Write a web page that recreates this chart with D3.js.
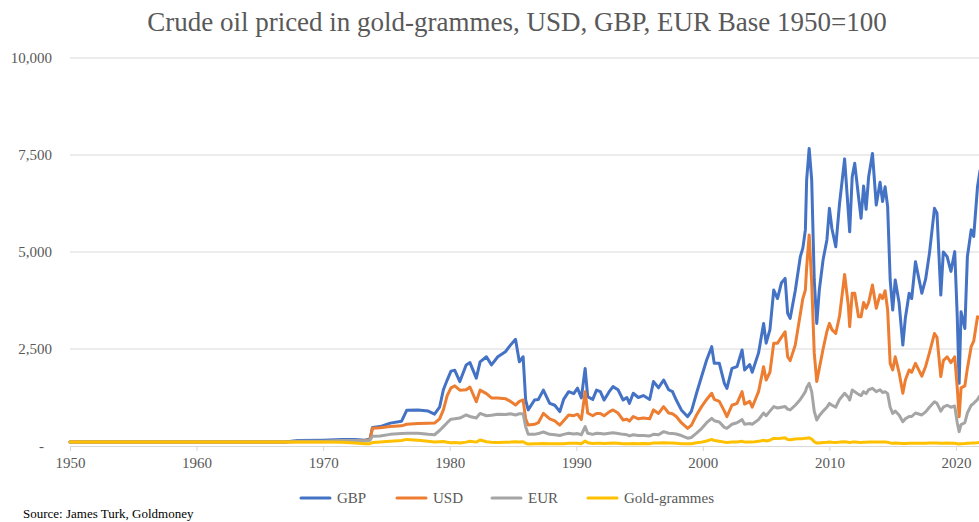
<!DOCTYPE html>
<html>
<head>
<meta charset="utf-8">
<script src="https://cdn.jsdelivr.net/npm/d3@7"></script>
<style>
  html, body { margin: 0; padding: 0; background: #ffffff; }
  svg { display: block; }
  text { font-family: "Liberation Serif", "DejaVu Serif", serif; fill: #595959; }
</style>
</head>
<body>
<svg id="chart" width="979" height="522"></svg>
<script>
// Observation dates (decimal years)
const dates = [
  1950.0, 1955.0, 1960.0, 1965.0, 1967.0, 1968.0, 1970.0, 1971.5, 1972.5, 1973.3, 1973.7, 1973.9,
  1974.5, 1975.3, 1976.2, 1976.6, 1977.5, 1978.3, 1978.8, 1979.2, 1979.5, 1979.8, 1980.1, 1980.4,
  1980.8, 1981.3, 1981.6, 1982.1, 1982.4, 1982.9, 1983.3, 1983.8, 1984.4, 1984.8, 1985.2, 1985.5,
  1985.8, 1986.0, 1986.2, 1986.7, 1987.0, 1987.4, 1987.9, 1988.3, 1988.7, 1989.0, 1989.4, 1989.8,
  1990.1, 1990.4, 1990.7, 1990.9, 1991.3, 1991.6, 1991.9, 1992.2, 1992.6, 1992.9, 1993.3, 1993.7,
  1994.0, 1994.2, 1994.5, 1994.9, 1995.3, 1995.8, 1996.1, 1996.5, 1996.9, 1997.3, 1997.6, 1997.9,
  1998.3, 1998.8, 1999.1, 1999.5, 1999.9, 2000.3, 2000.7, 2000.9, 2001.3, 2001.7, 2001.9, 2002.3,
  2002.7, 2003.1, 2003.3, 2003.7, 2003.9, 2004.4, 2004.8, 2005.0, 2005.3, 2005.6, 2005.9, 2006.2,
  2006.5, 2006.7, 2006.9, 2007.3, 2007.7, 2007.9, 2008.1, 2008.2, 2008.4, 2008.6, 2008.8, 2009.0,
  2009.2, 2009.5, 2009.8, 2010.0, 2010.2, 2010.5, 2010.8, 2011.2, 2011.5, 2011.6, 2011.8, 2012.0,
  2012.3, 2012.5, 2012.7, 2012.9, 2013.1, 2013.4, 2013.7, 2014.0, 2014.2, 2014.4, 2014.6, 2014.8,
  2015.0, 2015.2, 2015.5, 2015.8, 2016.0, 2016.3, 2016.5, 2016.8, 2017.3, 2017.6, 2017.9, 2018.3,
  2018.5, 2018.8, 2019.0, 2019.3, 2019.6, 2019.9, 2020.1, 2020.25, 2020.4, 2020.7, 2020.9, 2021.2,
  2021.4, 2021.7, 2021.9
];

// Crude oil price indexed to 1950 = 100, by unit of account
const gbp = [
  100, 100, 100, 100, 105, 140, 150, 165, 165, 150, 180, 480,
  500, 590, 640, 920, 930, 900, 820, 1000, 1450, 1700, 1930, 1950,
  1660, 2090, 2150, 1750, 2170, 2300, 2090, 2300, 2430, 2600, 2750, 2170,
  2300, 1185, 930, 1185, 1200, 1440, 1100, 1050, 885, 1200, 1400, 1350,
  1490, 1240, 2000, 1270, 1200, 1440, 1400, 1185, 1400, 1530, 1450, 1185,
  1250, 1100, 1360, 1250, 1300, 1200, 1660, 1500, 1700, 1450, 1400, 1185,
  930, 755, 900, 1360, 1790, 2215, 2560, 2130, 2130, 1615, 1485, 2000,
  2045, 2475, 1960, 2100, 1900, 2400, 3160, 2650, 3000, 4020, 3800, 4200,
  4320, 3420, 3290, 4000, 4880, 5100, 5570, 6850, 7670, 6850, 4280, 3160,
  4020, 4800, 5310, 6125, 5600, 5135, 6250, 7400, 6000, 5520, 6940, 7285,
  6425, 5870, 6700, 6100, 6940, 7540, 6210, 6800, 6300, 6680, 6170, 4280,
  3505, 4280, 3700, 2600, 3300, 3935, 3800, 4750, 3935, 4300, 4960, 6125,
  6000, 3890, 5000, 4880, 4500, 5010, 3330, 1615, 3460, 3030, 4880, 5570,
  5400, 6680, 7100
];
const usd = [
  100, 100, 100, 100, 100, 110, 110, 130, 135, 140, 160, 460,
  470, 500, 520, 560, 580, 585, 590, 700, 930, 1300, 1500, 1550,
  1440, 1450, 1520, 1140, 1440, 1350, 1240, 1240, 1220, 1150, 1055, 1150,
  1185, 700, 540, 560, 600, 840, 700, 650, 540, 650, 800, 780,
  820, 680, 1400, 850, 780, 840, 840, 780, 880, 930, 850, 670,
  690, 640, 760, 700, 720, 700, 930, 840, 1015, 850, 830, 760,
  600, 455, 540, 800, 1015, 1200, 1360, 1200, 1150, 900, 755, 1050,
  1100, 1400, 1080, 1150, 1000, 1400, 2045, 1700, 1900, 2650, 2650, 2800,
  2945, 2300, 2200, 2600, 3400, 3800, 4020, 4600, 5440, 4200, 2400, 1660,
  2000, 2500, 2950, 3160, 3000, 2900, 3350, 4420, 3600, 3075, 3935, 3935,
  3330, 3330, 3700, 3550, 3700, 4150, 3550, 3900, 3800, 4000, 3505, 2130,
  1960, 2300, 1900, 1360, 1700, 1960, 1900, 2130, 1800, 2050, 2400, 2900,
  2800, 1790, 2200, 2300, 2150, 2300, 1500, 755, 1500, 1550, 2000, 2560,
  2700, 3330, 3300
];
const eur = [
  100, 100, 100, 100, 100, 120, 125, 140, 140, 130, 150, 250,
  260, 300, 320, 330, 330, 300, 290, 400, 500, 600, 690, 700,
  720, 800, 760, 720, 840, 780, 790, 820, 810, 830, 800, 830,
  830, 500, 300, 300, 320, 360, 300, 290, 270, 300, 330, 310,
  320, 290, 500, 330, 300, 330, 320, 310, 330, 340, 320, 300,
  290, 260, 290, 270, 270, 260, 300, 290, 370, 330, 320, 310,
  270, 200, 220, 330, 450, 600, 715, 650, 620, 480, 455, 560,
  600, 680, 560, 580, 560, 680, 850, 780, 900, 1015, 980, 1000,
  1020, 950, 930, 1050, 1200, 1300, 1400, 1500, 1615, 1400, 900, 670,
  780, 900, 1000, 1100, 1050, 1000, 1200, 1360, 1250, 1185, 1440, 1400,
  1330, 1300, 1400, 1350, 1450, 1485, 1400, 1450, 1380, 1400, 1350, 1000,
  840, 900, 800, 625, 700, 760, 760, 850, 800, 880, 1000, 1140,
  1100, 900, 1000, 1050, 1000, 1030, 600, 370, 550, 600, 850, 1050,
  1100, 1200, 1300
];
const goldGrammes = [
  100, 100, 100, 100, 100, 100, 100, 95, 75, 55, 60, 90,
  105, 120, 140, 170, 150, 120, 105, 110, 115, 95, 85, 90,
  80, 100, 120, 100, 155, 110, 95, 90, 95, 100, 110, 105,
  110, 70, 50, 55, 60, 65, 55, 55, 55, 60, 70, 70,
  70, 60, 130, 85, 65, 70, 70, 65, 70, 75, 70, 60,
  60, 55, 65, 60, 65, 60, 80, 75, 85, 75, 75, 70,
  60, 55, 60, 85, 100, 130, 170, 140, 120, 100, 90, 100,
  105, 120, 100, 105, 100, 120, 150, 130, 150, 200, 190, 200,
  210, 170, 160, 180, 190, 190, 200, 200, 210, 180, 110, 75,
  80, 90, 95, 100, 95, 90, 100, 110, 95, 90, 100, 105,
  95, 90, 95, 95, 100, 105, 100, 105, 100, 105, 95, 80,
  70, 75, 70, 65, 65, 70, 70, 70, 70, 70, 75, 80,
  80, 70, 70, 75, 70, 70, 60, 50, 60, 65, 70, 75,
  80, 85, 90
];

const seriesNames = ["GBP", "USD", "EUR", "Gold-grammes"];
const seriesColors = ["#4472C4", "#ED7D31", "#A5A5A5", "#FFC000"];
const seriesValues = [gbp, usd, eur, goldGrammes];

const xTicks = [1950, 1960, 1970, 1980, 1990, 2000, 2010, 2020];
const yTicks = [0, 2500, 5000, 7500, 10000];

const titleText = "Crude oil priced in gold-grammes, USD, GBP, EUR Base 1950=100";
const sourceText = "Source: James Turk, Goldmoney";

const serif = "'Liberation Serif', 'DejaVu Serif', serif";
const svg = d3.select("#chart");
const W = 979;

const x = d3.scaleLinear().domain([1950, 2022.5]).range([70, 70 + 72.5 * 12.657]);
const y = d3.scaleLinear().domain([0, 10000]).range([446, 58]);

// Title
svg.append("text")
  .attr("x", 517).attr("y", 31)
  .attr("text-anchor", "middle")
  .style("font-family", serif)
  .style("font-size", "27px")
  .style("fill", "#595959")
  .text(titleText);

// Horizontal gridlines
svg.append("g")
  .selectAll("line")
  .data(yTicks.filter(v => v > 0))
  .join("line")
  .attr("x1", x(1950)).attr("x2", W)
  .attr("y1", d => y(d)).attr("y2", d => y(d))
  .attr("stroke", "#d9d9d9").attr("stroke-width", 1);

// Y axis labels
const yAxis = d3.axisLeft(y)
  .tickValues(yTicks)
  .tickSize(0)
  .tickPadding(18)
  .tickFormat(v => v === 0 ? "-" : d3.format(",")(v));
const yG = svg.append("g").attr("transform", `translate(${x(1950)},0)`).call(yAxis);
yG.attr("font-family", null).attr("font-size", null);
yG.select(".domain").remove();
yG.selectAll("text")
  .style("font-size", "15px")
  .style("font-family", serif)
  .style("fill", "#595959")
  .attr("dx", d => d === 0 ? "-8" : "0");

// X axis
const xAxis = d3.axisBottom(x)
  .tickValues(xTicks)
  .tickSize(5)
  .tickSizeOuter(0)
  .tickPadding(6)
  .tickFormat(d3.format("d"));
const xG = svg.append("g").attr("transform", `translate(0,${y(0)})`).call(xAxis);
xG.attr("font-family", null).attr("font-size", null);
xG.select(".domain").attr("stroke", "#d9d9d9").attr("stroke-width", 1);
xG.selectAll(".tick line").attr("stroke", "#d9d9d9");
xG.selectAll("text")
  .style("font-size", "15px")
  .style("font-family", serif)
  .style("fill", "#595959");

// Series lines
const line = d3.line()
  .x((d, i) => x(dates[i]))
  .y(d => y(d));

svg.append("g")
  .selectAll("path")
  .data(seriesValues)
  .join("path")
  .attr("d", d => line(d))
  .attr("fill", "none")
  .attr("stroke", (d, i) => seriesColors[i])
  .attr("stroke-width", 3)
  .attr("stroke-linejoin", "round")
  .attr("stroke-linecap", "round");

// Legend
const legendX = [301, 397, 492, 588];
const legend = svg.append("g")
  .selectAll("g")
  .data(seriesNames)
  .join("g")
  .attr("transform", (d, i) => `translate(${legendX[i]},498)`);
legend.append("line")
  .attr("x1", 0).attr("x2", 29)
  .attr("y1", 0).attr("y2", 0)
  .attr("stroke", (d, i) => seriesColors[i])
  .attr("stroke-width", 3)
  .attr("stroke-linecap", "round");
legend.append("text")
  .attr("x", 36).attr("y", 5)
  .style("font-family", serif)
  .style("font-size", "15px")
  .style("fill", "#595959")
  .text(d => d);

// Source note
svg.append("text")
  .attr("x", 23).attr("y", 518)
  .style("font-family", serif)
  .style("font-size", "13px")
  .style("fill", "#000000")
  .text(sourceText);
</script>
</body>
</html>
